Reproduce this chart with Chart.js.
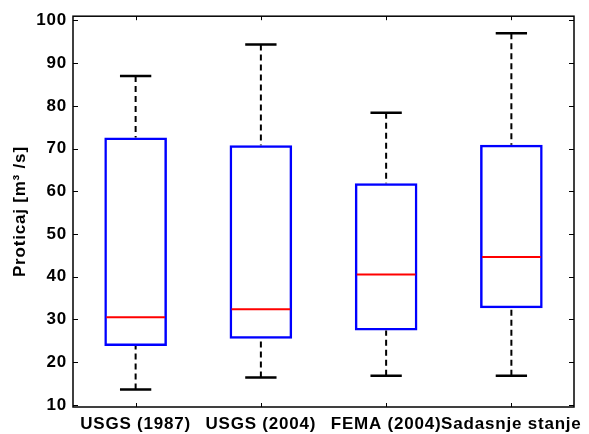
<!DOCTYPE html>
<html>
<head>
<meta charset="utf-8">
<script src="https://cdn.jsdelivr.net/npm/chart.js@4.4.1/dist/chart.umd.min.js"></script>
<style>
    html, body { margin: 0; padding: 0; background: #fff; }
    #wrap { width: 589px; height: 434px; }
</style>
</head>
<body>
<div id="wrap"><canvas id="boxChart" width="589" height="434"></canvas></div>
<script>
// Podaci ocitani sa grafika
const kategorije = ['USGS (1987)', 'USGS (2004)', 'FEMA (2004)', 'Sadasnje stanje'];
const minimumi = [13.6, 16.4, 16.8, 16.8];
const donjiKvartili = [23.8, 25.5, 27.4, 32.6];
const medijane = [30.5, 32.4, 40.5, 44.6];
const gornjiKvartili = [72.6, 70.8, 61.9, 70.9];
const maksimumi = [87.0, 94.4, 78.4, 97.0];
const yPodeoci = [10, 20, 30, 40, 50, 60, 70, 80, 90, 100];

const font = { family: 'Liberation Sans, Arial, sans-serif', size: 17, weight: 'bold' };

// Razmak izmedju slova, kao na originalu
const razmakSlova = {
    id: 'razmakSlova',
    beforeDraw(chart) {
        chart.ctx.letterSpacing = '0.8px';
    }
};

// Brkovi, medijane, okvir i podeoci
const boxDodaci = {
    id: 'boxDodaci',
    afterDatasetsDraw(chart) {
        const ctx = chart.ctx;
        const x = chart.scales.x;
        const y = chart.scales.y;
        const a = chart.chartArea;
        const sirina = x.getPixelForValue(1) - x.getPixelForValue(0);
        const polaKape = sirina * 0.125;
        const polaKutije = sirina * 0.25;

        ctx.save();
        kategorije.forEach((k, i) => {
            const cx = x.getPixelForValue(i);

            // isprekidani brkovi
            ctx.strokeStyle = '#000';
            ctx.lineWidth = 2;
            ctx.setLineDash([6, 4]);
            ctx.beginPath();
            ctx.moveTo(cx, y.getPixelForValue(maksimumi[i]));
            ctx.lineTo(cx, y.getPixelForValue(gornjiKvartili[i]));
            ctx.moveTo(cx, y.getPixelForValue(minimumi[i]));
            ctx.lineTo(cx, y.getPixelForValue(donjiKvartili[i]));
            ctx.stroke();

            // kape
            ctx.setLineDash([]);
            ctx.lineWidth = 2.5;
            ctx.beginPath();
            ctx.moveTo(cx - polaKape, y.getPixelForValue(maksimumi[i]));
            ctx.lineTo(cx + polaKape, y.getPixelForValue(maksimumi[i]));
            ctx.moveTo(cx - polaKape, y.getPixelForValue(minimumi[i]));
            ctx.lineTo(cx + polaKape, y.getPixelForValue(minimumi[i]));
            ctx.stroke();

            // medijana
            ctx.strokeStyle = '#ff0000';
            ctx.lineWidth = 2;
            ctx.beginPath();
            ctx.moveTo(cx - polaKutije + 2, y.getPixelForValue(medijane[i]));
            ctx.lineTo(cx + polaKutije - 2, y.getPixelForValue(medijane[i]));
            ctx.stroke();
        });

        // okvir
        ctx.strokeStyle = '#000';
        ctx.lineWidth = 1.5;
        ctx.strokeRect(a.left, a.top, a.right - a.left, a.bottom - a.top);

        // podeoci prema unutra
        ctx.lineWidth = 1;
        ctx.beginPath();
        yPodeoci.forEach(v => {
            const py = Math.round(y.getPixelForValue(v)) + 0.5;
            ctx.moveTo(a.left, py);
            ctx.lineTo(a.left + 5, py);
            ctx.moveTo(a.right, py);
            ctx.lineTo(a.right - 5, py);
        });
        kategorije.forEach((k, i) => {
            const px = Math.round(x.getPixelForValue(i)) + 0.5;
            ctx.moveTo(px, a.bottom);
            ctx.lineTo(px, a.bottom - 4);
            ctx.moveTo(px, a.top);
            ctx.lineTo(px, a.top + 4);
        });
        ctx.stroke();
        ctx.restore();
    }
};

const ctx = document.getElementById('boxChart').getContext('2d');
const boxChart = new Chart(ctx, {
    type: 'bar',
    data: {
        labels: kategorije,
        datasets: [{
            data: kategorije.map((k, i) => [donjiKvartili[i], gornjiKvartili[i]]),
            backgroundColor: 'rgba(0,0,0,0)',
            borderColor: '#0000ff',
            borderWidth: 2.5,
            borderSkipped: false,
            barPercentage: 0.5,
            categoryPercentage: 1
        }]
    },
    options: {
        responsive: false,
        animation: false,
        layout: { padding: { left: 0, right: 15, top: 14, bottom: 0 } },
        plugins: {
            legend: { display: false },
            tooltip: { enabled: false }
        },
        scales: {
            x: {
                grid: { display: false, drawTicks: false },
                border: { display: false },
                ticks: { color: '#000', font: font, padding: 7, maxRotation: 0, autoSkip: false },
                afterFit: s => { s.height = 27; }
            },
            y: {
                min: 9.5,
                max: 101,
                grid: { display: false, drawTicks: false },
                border: { display: false },
                ticks: { color: '#000', font: font, padding: 6 },
                afterBuildTicks: s => { s.ticks = yPodeoci.map(v => ({ value: v })); },
                afterFit: s => { s.width = 73; },
                title: {
                    display: true,
                    text: 'Proticaj [m³ /s]',
                    color: '#000',
                    font: font,
                    padding: { top: 10, bottom: 0 }
                }
            }
        }
    },
    plugins: [razmakSlova, boxDodaci]
});
</script>
</body>
</html>
